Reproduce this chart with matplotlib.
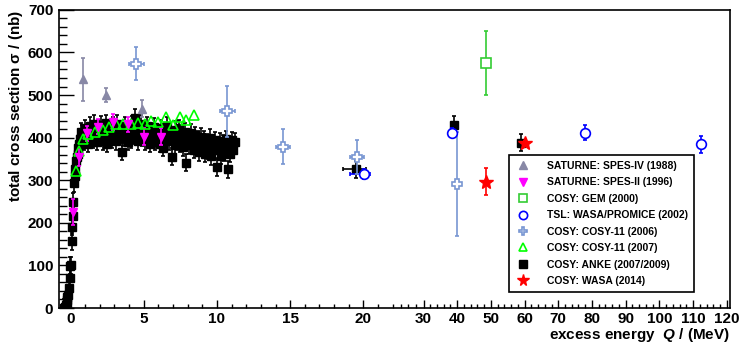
import numpy as np
import matplotlib
matplotlib.use("Agg")
import matplotlib.pyplot as plt
from matplotlib.ticker import FixedLocator, NullFormatter

plt.rcParams['font.family'] = ['Liberation Sans', 'DejaVu Sans']
plt.rcParams['font.weight'] = 'bold'
plt.rcParams['axes.labelweight'] = 'bold'
plt.rcParams['mathtext.fontset'] = 'custom'
plt.rcParams['mathtext.rm'] = 'Liberation Sans'
plt.rcParams['mathtext.it'] = 'Liberation Sans:italic:bold'

# SATURNE SPES-IV (1988)
spes4_q = [0.86, 2.4, 4.9]
spes4_s = [537, 500, 468]
spes4_e = [50, 17, 20]

# SATURNE SPES-II (1996)
spes2_q = [0.14, 0.59, 1.1, 1.9, 2.9, 3.9, 5.0, 6.2]
spes2_s = [226, 354, 410, 426, 437, 431, 402, 402]
spes2_e = [30, 20, 18, 18, 18, 18, 20, 20]

# COSY GEM (2000)
gem_q = [48.6]
gem_s = [575]
gem_e = [75]

# TSL WASA/PROMICE (2002)
tsl_q = [20.1, 38.4, 78.0, 112.5]
tsl_s = [315, 412, 412, 385]
tsl_e = [12, 10, 17, 20]
tsl_qe = [1.0, 0.6, 0.6, 0.6]

# COSY-11 (2006)
c11a_q = [4.5, 10.7, 14.5, 19.6, 40.0]
c11a_s = [574, 462, 379, 355, 291]
c11a_e = [39, 60, 42, 40, 122]
c11a_qe = [0.5, 0.5, 0.5, 0.5, 0.3]

# COSY-11 (2007)
c11b_q = [0.36, 0.59, 0.86, 1.2, 1.7, 2.2, 2.6, 3.1, 3.6, 4.1, 4.6, 5.1,
          5.5, 6.0, 6.5, 7.0, 7.5, 7.9, 8.4]
c11b_s = [322, 369, 396, 408, 414, 419, 424, 432, 433, 432, 435, 433,
          440, 436, 448, 430, 449, 441, 453]

# COSY ANKE (2007/2009)
anke_q = [-0.45, -0.39, -0.33, -0.27, -0.22, -0.17, -0.12, -0.06, -0.02, 0.03,
          0.08, 0.12, 0.16, 0.20, 0.24, 0.29, 0.33, 0.38, 0.43, 0.48, 0.53,
          0.58, 0.63, 0.68, 0.73,
          0.8, 0.9, 1.0, 1.1, 1.2, 1.3, 1.4, 1.5, 1.6, 1.7, 1.8, 1.9,
          2.0, 2.1, 2.2, 2.3, 2.4, 2.5, 2.6, 2.7, 2.8, 2.9,
          3.0, 3.1, 3.2, 3.3, 3.4, 3.5, 3.6, 3.7, 3.8, 3.9,
          4.0, 4.1, 4.2, 4.3, 4.4, 4.5, 4.6, 4.7, 4.8, 4.9,
          5.0, 5.1, 5.2, 5.3, 5.4, 5.5, 5.6, 5.7, 5.8, 5.9,
          6.0, 6.1, 6.2, 6.3, 6.4, 6.5, 6.6, 6.7, 6.8, 6.9,
          7.0, 7.1, 7.2, 7.3, 7.4, 7.5, 7.6, 7.7, 7.8, 7.9,
          8.0, 8.1, 8.2, 8.3, 8.4, 8.5, 8.6, 8.7, 8.8, 8.9,
          9.0, 9.1, 9.2, 9.3, 9.4, 9.5, 9.6, 9.7, 9.8, 9.9,
          10.0, 10.1, 10.2, 10.3, 10.4, 10.5, 10.6, 10.75, 10.8, 10.9, 11.0, 11.1, 11.2,
          19.5, 39.0, 59.0]
anke_s = [0, 2, 8, 18, 25, 30, 48, 70, 99, 100,
          157, 191, 215, 250, 293, 310, 326, 345, 354, 362, 375,
          385, 396, 400, 414,
          410, 392, 422, 405, 386, 428, 412, 396, 432, 415, 390, 422,
          405, 430, 392, 415, 434, 386, 410, 422, 396, 428,
          412, 392, 432, 405, 420, 367, 400, 428, 410, 390,
          415, 396, 430, 405, 447, 422, 392, 412, 432, 400,
          420, 392, 428, 405, 386, 415, 398, 425, 390, 410,
          405, 386, 422, 376, 412, 396, 428, 392, 408, 355,
          400, 382, 418, 392, 422, 386, 405, 378, 414, 341,
          398, 382, 412, 390, 372, 406, 385, 396, 366, 402,
          380, 396, 362, 388, 370, 400, 356, 386, 375, 394,
          330, 372, 392, 358, 386, 366, 396, 326, 380, 362, 394, 372, 390,
          326, 430, 388]
anke_qe = [0.9 if q > 15 else 0 for q in anke_q]

# COSY WASA (2014)
wasa_q = [48.6, 60.0]
wasa_s = [297, 388]
wasa_e = [32, 5]


def fwd(q):
    q = np.asarray(q, float)
    return np.where(q < 20, q * 14.6,
                    np.where(q < 30, 292 + (q - 20) * 6.0, 352 + (q - 30) * 3.36))


def inv(p):
    p = np.asarray(p, float)
    return np.where(p < 292, p / 14.6,
                    np.where(p < 352, 20 + (p - 292) / 6.0, 30 + (p - 352) / 3.36))


fig = plt.figure(figsize=(7.45, 3.52), dpi=100)
ax = fig.add_axes([0.079, 0.125, 0.901, 0.847])
ax.set_xscale('function', functions=(fwd, inv))

eb = dict(ls='none', elinewidth=1.2, capsize=1.5, capthick=1.2)

ax.errorbar(anke_q, anke_s, yerr=20, xerr=anke_qe, fmt='s', color='black',
            ms=6, label='COSY: ANKE (2007/2009)', zorder=3, **eb)
ax.errorbar(spes4_q, spes4_s, yerr=spes4_e, fmt='^', color='#8888a6', ms=6,
            label='SATURNE: SPES-IV (1988)', zorder=4, **eb)
ax.errorbar(spes2_q, spes2_s, yerr=spes2_e, fmt='v', color='#ff00ff', ms=6,
            label='SATURNE: SPES-II (1996)', zorder=4, **eb)
ax.errorbar(gem_q, gem_s, yerr=gem_e, fmt='s', color='#33cc33', mfc='white',
            ms=6.5, mew=1.2, label='COSY: GEM (2000)', zorder=4, **eb)
ax.errorbar(tsl_q, tsl_s, yerr=tsl_e, xerr=tsl_qe, fmt='o', color='#0000ff',
            mfc='white', ms=7, mew=1.2, label='TSL: WASA/PROMICE (2002)', zorder=5, **eb)
ax.errorbar(c11a_q, c11a_s, yerr=c11a_e, xerr=c11a_qe, fmt='P', color='#7896d2',
            mfc='white', ms=7.5, mew=1.2, label='COSY: COSY-11 (2006)', zorder=5, **eb)
ax.plot(c11b_q, c11b_s, '^', color='#00ff00', mfc='none', ms=7.5, mew=1.2,
        label='COSY: COSY-11 (2007)', zorder=4)
ax.errorbar(wasa_q, wasa_s, yerr=wasa_e, fmt='*', color='#ff0000', ms=10,
            label='COSY: WASA (2014)', zorder=6, **eb)

ax.set_xlim(-0.8, 121)
ax.set_ylim(0, 700)

ax.xaxis.set_major_locator(FixedLocator([0, 5, 10, 15, 20, 30, 40, 50, 60, 70,
                                         80, 90, 100, 110, 120]))
ax.xaxis.set_major_formatter(matplotlib.ticker.FuncFormatter(lambda v, p: '%d' % round(v)))
minors = list(range(1, 20)) + [22.5, 25, 26.25, 27.5, 28.75] + list(range(32, 121, 2))
ax.xaxis.set_minor_locator(FixedLocator(minors))
ax.xaxis.set_minor_formatter(NullFormatter())
ax.yaxis.set_major_locator(FixedLocator(range(0, 701, 100)))
ax.yaxis.set_minor_locator(FixedLocator(range(0, 701, 20)))

ax.tick_params(axis='both', which='both', direction='in', top=False, right=False,
               labelsize=11, width=1.0)
ax.tick_params(axis='y', which='major', length=11, pad=4)
ax.tick_params(axis='y', which='minor', length=5.5)
ax.tick_params(axis='x', which='major', length=6, pad=3)
ax.tick_params(axis='x', which='minor', length=3)
for s in ax.spines.values():
    s.set_linewidth(1.2)

ax.set_xlabel(r'excess energy  $Q$ / (MeV)', fontsize=11, fontweight='bold',
              loc='right', labelpad=0)
ax.set_ylabel(r'total cross section $\mathrm{\sigma}$ / (nb)', fontsize=11,
              fontweight='bold', loc='top', labelpad=2)

h, l = ax.get_legend_handles_labels()
order = ['SATURNE: SPES-IV (1988)', 'SATURNE: SPES-II (1996)', 'COSY: GEM (2000)',
         'TSL: WASA/PROMICE (2002)', 'COSY: COSY-11 (2006)', 'COSY: COSY-11 (2007)',
         'COSY: ANKE (2007/2009)', 'COSY: WASA (2014)']
hm = dict(zip(l, h))
handles = []
for name in order:
    hd = hm[name]
    if hasattr(hd, 'lines'):
        hd = hd.lines[0]
    handles.append(hd)
leg = ax.legend(handles, order, loc='upper left', bbox_to_anchor=(0.671, 0.513),
                borderaxespad=0, prop={'size': 7.5, 'weight': 'bold'}, frameon=True,
                fancybox=False, edgecolor='black', framealpha=1, labelspacing=0.62,
                handlelength=1.5, handletextpad=1.6, borderpad=0.55, markerscale=0.85)
leg.get_frame().set_linewidth(1.2)

fig.savefig('out.png', dpi=100)
